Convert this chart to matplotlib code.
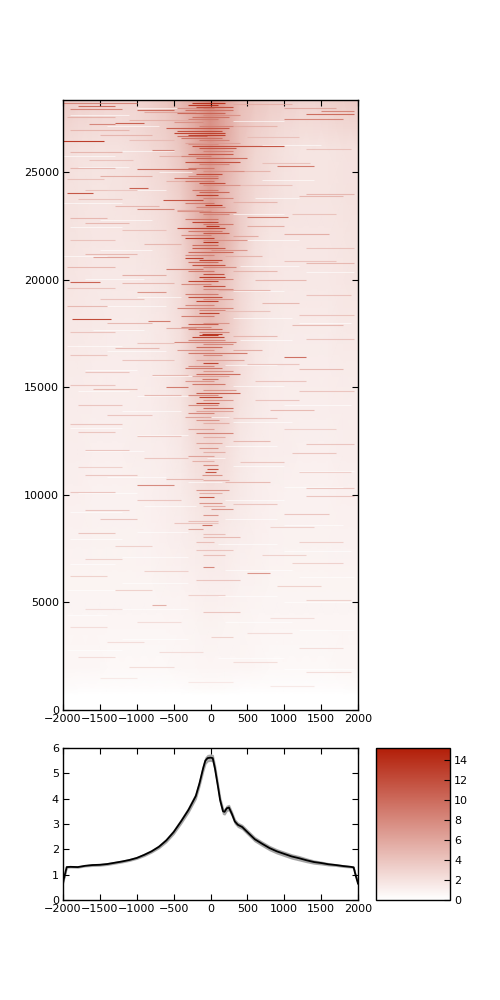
import matplotlib
matplotlib.use('Agg')
import matplotlib.pyplot as plt
from matplotlib.colors import LinearSegmentedColormap, Normalize
import numpy as np

# coarse signal, one row per y value
heat_x = [-2000,-1800,-1600,-1400,-1200,-1000,-800,-600,-400,-200,0,200,400,600,800,1000,1200,1400,1600,1800,2000]
heat_y = [0,700,1000,2000,4000,6000,8000,10000,12000,14000,16000,18000,20000,22000,24000,26000,28370]
heat = [
[0,0,0,0,0,0,0,0,0,0,0,0,0,0,0,0,0,0,0,0,0],
[0,0,0,0,0,0,0,0,0,0,0,0,0,0,0,0,0,0,0,0,0],
[.3,.2,.2,.2,.2,.2,.2,.2,.2,.3,.4,.3,.2,.2,.2,.2,.2,.2,.2,.2,.3],
[.6,.6,.6,.5,.5,.5,.5,.5,.6,.6,.7,.7,.7,.6,.5,.5,.5,.5,.5,.6,.6],
[.7,.7,.7,.7,.7,.7,.7,.7,.7,.8,.9,.8,.8,.7,.7,.7,.7,.7,.7,.7,.7],
[.8,.8,.8,.8,.8,.8,.8,.9,1,1.1,1.2,1.2,1,.9,.8,.8,.8,.8,.8,.8,.8],
[1,1,.9,.9,.9,.9,1,1.1,1.2,1.4,1.6,1.4,1.2,1.1,1,.9,.9,.9,.9,1,1],
[1.1,1.1,1,1,1,1,1.1,1.2,1.4,1.8,2.1,1.9,1.5,1.2,1.1,1,1,1,1,1.1,1.1],
[1.2,1.2,1.1,1.1,1.1,1.2,1.2,1.3,1.6,2.2,2.5,2.2,1.6,1.3,1.2,1.2,1.1,1.1,1.1,1.2,1.2],
[1.3,1.3,1.2,1.2,1.2,1.2,1.3,1.5,1.8,2.8,3.4,2.9,1.9,1.5,1.3,1.2,1.2,1.2,1.2,1.3,1.3],
[1.4,1.4,1.3,1.3,1.3,1.3,1.4,1.6,2.1,3.4,4,3.3,2.3,1.7,1.4,1.3,1.3,1.3,1.3,1.4,1.4],
[1.6,1.6,1.5,1.4,1.4,1.4,1.5,1.7,2.3,3.9,4.6,3.8,2.6,1.8,1.5,1.4,1.4,1.4,1.4,1.6,1.6],
[1.8,1.7,1.6,1.6,1.6,1.6,1.7,1.9,2.6,4,5,4,2.7,1.9,1.7,1.6,1.6,1.6,1.6,1.7,1.8],
[1.9,1.8,1.7,1.7,1.7,1.8,1.9,2.2,3,4.8,6.4,5.4,3.5,2.2,1.8,1.7,1.7,1.7,1.7,1.8,1.9],
[2,1.9,1.8,1.8,1.9,2,2.2,2.6,3.4,5.1,6.6,4.8,3.5,2.6,2.2,1.9,1.8,1.8,1.8,1.9,2],
[2.2,2,1.9,1.9,2,2.2,2.6,3,3.9,5.6,7,5.6,4,2.8,2.4,2,1.8,1.8,1.8,1.9,2],
[3.4,3.2,3,2.9,2.9,2.9,3.3,3.9,4.8,6,8,6.2,4.4,3.8,3.4,3.2,3,3,3.2,3.4,3.6],
]

# strongest streaks seen in the heatmap: y, x start, x end, value
red_streaks = [
(28250,-2000,-1000,9),(28100,-1800,-1300,11),(27950,-1900,-1200,9),(27900,-1000,-500,11),(28250,-250,200,15),
(28150,-300,100,15),(28050,-200,300,13),(27900,-350,300,10),(27750,-450,200,11),(27600,-250,250,10),
(27700,1300,1950,11),(27850,1500,1950,9),(27500,1000,1800,9),(27300,-1300,-900,12),(27250,-1650,-1300,9),
(27050,-600,250,12),(26950,-450,150,13),(26850,-500,200,14),(26750,-300,200,14),(26600,-400,150,10),
(26480,-2000,-1450,15),(26250,-250,1000,13),(26150,-150,350,12),(26050,-800,-500,9),(25850,-300,300,12),
(25650,-200,500,11),(25500,-350,400,13),(25300,900,1400,10),(25150,-1000,-200,11),(24950,-200,150,13),
(24750,-500,100,11),(24500,-150,200,13),(24300,-1100,-850,12),(24100,-150,250,11),(24050,-1950,-1600,13),
(23950,-200,100,14),(23700,-650,-100,13),(23500,-80,150,15),(23300,-1000,-500,9),(23150,-150,350,10),
(22950,500,1050,10),(22700,-250,100,14),(22500,-60,120,15),(22400,-450,200,14),(22200,-100,250,12),
(21950,-350,50,14),(21750,-100,100,15),(21500,-250,200,12),(21300,-300,300,11),(21050,-1600,-1100,7),
(21000,-350,-100,14),(20950,-150,150,14),(20700,-250,200,13),(20500,-600,-100,10),(20300,-100,180,13),
(20150,-150,200,15),(19950,-300,100,14),(19900,-1900,-1500,12),(19700,-100,200,13),(19450,-1000,-600,8),
(19200,-300,150,13),(19000,-200,100,14),(18700,-450,300,9),(18450,-150,120,14),(18180,-1880,-1350,14),
(18100,-850,-550,10),(17950,-300,100,12),(17700,-300,150,11),(17500,-120,150,15),(17450,-150,100,15),
(17350,-250,180,14),(17100,-500,350,9),(16900,-200,150,11),(16600,-300,500,10),(16400,1000,1300,11),
(16150,-100,100,14),(15900,-350,150,10),(15650,-200,400,11),(15400,-120,100,10),(15150,-250,200,10),
(15000,-600,-300,10),(14750,-200,400,12),(14550,-150,150,14),(14300,-200,120,14),(14050,-100,300,11),
(13800,-300,50,9),(13500,-200,120,8),(12900,-200,300,9),(12200,-150,100,8),(11800,-300,50,7),
(11400,-100,100,9),(11200,-50,100,13),(11050,-70,80,13),(10950,-120,150,8),(10450,-1000,-500,9),
(10250,-200,250,8),(9900,-150,50,13),(9650,-150,150,8),(9350,0,300,8),(9050,-100,100,8),
(8600,-120,20,11),(8400,-300,-100,7),(6650,-100,50,9),(6350,500,800,8),(4900,-800,-600,6),
]

# busier rows inside the centre band
centre_streaks = [
(28000,-450,50,9),(27680,-100,400,8),(27480,-300,100,9),(27350,-500,-100,8),(27150,-150,300,9),(26680,-450,-50,11),
(26500,-150,250,9),(26320,-300,100,8),(25980,-100,300,9),(25760,-400,0,9),(25400,-150,250,9),(25230,-300,50,10),
(25050,-100,450,8),(24840,-300,100,9),(24620,-350,50,10),(24400,-100,400,8),(24200,-250,100,10),(23820,-100,300,9),
(23600,-350,50,10),(23400,-200,200,9),(23230,-450,0,8),(23050,-100,250,9),(22850,-350,100,10),(22600,-100,300,10),
(22300,-300,150,10),(22100,-400,0,9),(21850,-100,500,8),(21620,-250,100,11),(21400,0,500,8),(21180,-350,50,9),
(20820,-300,100,11),(20600,-100,350,9),(20420,-300,50,10),(20050,-100,300,9),(19820,-400,0,9),(19580,-100,300,9),
(19330,-350,100,10),(19100,-100,300,8),(18850,-350,50,9),(18600,-150,200,9),(18330,-400,50,10),(18020,-100,250,8),
(17820,-400,0,9),(17600,-150,250,9),(17220,-300,200,9),(17000,-100,300,9),(16750,-450,50,8),(16500,-100,150,9),
(16280,-200,450,7),(16020,-300,50,9),(15780,-100,300,8),(15520,-250,250,7),(15280,-350,50,8),(14900,-100,350,8),
(14650,-300,100,9),(14420,-100,300,8),(14180,-300,100,9),(13920,-200,300,7),(13650,-350,0,7),(13350,-100,250,6),
(13050,-300,50,7),(12700,-100,200,6),(12400,-200,150,7),(12000,-100,200,6),(11600,-250,50,6),(10700,-100,250,6),
(10100,-150,150,6),(9500,-100,200,6),(8800,-300,100,5),(8200,-100,200,5),(7800,-200,50,5),(7200,-100,200,5),
]

# paler streaks filling the sides
pale_streaks = [
(28180,300,1100,6),(28020,1000,1700,7),(27820,-900,-200,7),(27560,-1950,-1300,6),(27430,-1100,-300,6),(27180,300,900,6),
(26980,-1900,-1100,6),(26720,-1500,-800,6),(26640,500,1200,5),(26520,-1100,-500,5),(26380,-350,400,7),(26090,1300,1900,5),
(25950,-1900,-1200,6),(25780,-700,-150,6),(25600,-1650,-1050,5),(25420,700,1350,5),(25220,-1900,-1300,6),(25060,300,800,6),
(24850,-1500,-800,7),(24680,-1950,-1450,5),(24600,-600,-100,6),(24400,400,1100,5),(24200,-1700,-1000,5),(24020,1300,1950,6),
(23900,1200,1800,6),(23780,-1800,-1200,5),(23620,300,900,6),(23420,-1300,-700,6),(23250,-450,-100,7),(23050,1100,1700,5),
(22880,-1900,-1400,6),(22650,-1700,-1100,6),(22520,500,1000,7),(22330,-1200,-600,5),(22150,1000,1600,7),(22050,300,650,7),
(21880,-1900,-1300,5),(21650,-900,-400,6),(21480,1300,1950,5),(21220,-1700,-1000,6),(21100,200,700,6),(20880,1000,1700,5),
(20800,1300,1950,6),(20620,-1950,-1300,6),(20420,300,900,6),(20240,-1200,-600,7),(20020,600,1300,6),(19850,-1200,-500,6),
(19640,-1950,-1300,5),(19520,100,800,6),(19320,1300,1900,5),(19100,-1500,-900,5),(18950,700,1200,6),(18780,-1950,-1400,6),
(18550,200,800,5),(18350,1200,1950,5),(18020,-1400,-800,6),(17900,1100,1800,6),(17780,-600,-200,7),(17560,-1900,-1300,5),
(17400,300,900,6),(17250,1300,1950,5),(17050,-1000,-500,5),(16850,-1300,-700,6),(16720,300,700,7),(16500,-1900,-1400,5),
(16280,-1200,-500,5),(16100,500,1200,5),(15850,1200,1800,6),(15720,-1700,-1100,5),(15560,-800,-300,6),(15280,600,1300,5),
(15100,-1900,-1300,5),(14950,-1600,-1000,6),(14820,1200,1950,5),(14640,-900,-400,6),(14420,600,1200,5),(14180,-1800,-1200,5),
(13950,800,1400,6),(13700,-1400,-800,5),(13560,300,900,5),(13320,-1900,-1200,5),(13080,1000,1700,4),(12950,-1800,-1300,5),
(12760,-1000,-400,5),(12520,300,800,6),(12350,1300,1950,5),(12100,-1700,-1100,5),(11950,1100,1700,5),(11700,-900,-300,5),
(11520,400,1000,5),(11280,-1800,-1200,4),(11060,1200,1900,4),(10950,-1700,-1000,5),(10740,-600,-100,6),(10600,200,800,6),
(10340,1300,1950,5),(10120,-1900,-1300,5),(9950,1300,1950,5),(9780,-1000,-400,5),(9580,300,900,5),(9320,-1700,-1100,5),
(9120,1000,1600,5),(8900,-1500,-1000,5),(8720,-500,100,5),(8520,800,1400,4),(8220,-1800,-1300,5),(8060,-100,400,6),
(7800,1200,1800,4),(7640,-1300,-800,4),(7420,-200,300,5),(7220,700,1300,4),(7020,-1700,-1200,4),(6820,1100,1800,4),
(6480,-900,-300,4),(6220,-1900,-1400,4),(6040,-200,400,5),(5780,900,1500,4),(5560,-1300,-800,4),(5340,-300,200,4),
(5100,1300,1900,4),(4720,-1700,-1200,3),(4550,-100,400,5),(4300,800,1400,3),(4100,-1000,-400,3),(3850,-1900,-1400,3),
(3600,500,1100,3),(3400,0,300,4),(3160,-1400,-900,3),(2900,1200,1800,3),(2700,-700,-100,3),(2480,-1800,-1300,3),
(2240,300,900,3),(2000,-1100,-500,3),(1760,1300,1900,3),(1500,-1500,-1000,2),(1280,-300,300,2),(1100,800,1400,2),
]

# pale gaps between rows
white_gaps = [
(28000,-1000,-100),(27650,-1900,-1100),(27380,300,1000),(27150,-1400,-700),(26300,700,1500),(25980,-1200,-500),(25750,-2000,-1300),
(25250,-1800,-1100),(25030,-700,-250),(24650,700,1400),(24200,-1400,-600),(23820,600,1200),(23600,-2000,-1200),(23050,300,1000),
(22780,-1500,-800),(22450,-1900,-1200),(21850,500,1200),(21400,-1500,-800),(21120,-2000,-1400),(20650,400,1200),(20380,1300,1950),
(20050,-1700,-900),(19500,300,1000),(19230,-1000,-400),(18800,-1400,-600),(18250,300,1100),(17980,1200,1900),(17650,-1600,-900),
(17200,400,1100),(16950,-1950,-1200),(16700,-1400,-600),(16050,200,900),(15800,-1700,-1000),(15550,-800,-200),(15050,300,1000),
(14850,-1800,-1100),(14600,-1000,-300),(14200,1000,1900),(13900,-1200,-400),(13650,-100,250),(13400,300,1100),(13100,-1900,-1200),
(12800,-1000,-300),(12300,200,900),(12030,-1700,-900),(11700,-50,200),(11340,300,1000),(11100,1200,1950),(10820,-1400,-600),
(10600,-300,150),(10380,1000,1800),(10100,-1800,-1000),(9750,200,1000),(9500,-900,-200),(9200,-1900,-1200),(8900,200,900),
(8600,1000,1800),(8300,-1000,-300),(7950,-1900,-1200),(7700,100,900),(7400,1000,1900),(7100,-1200,-300),(6800,-1900,-1300),
(6500,200,1100),(6200,1200,1950),(5900,-1200,-300),(5600,-1950,-1300),(5300,100,900),(5000,1000,1900),(4700,-1300,-300),
(4400,-1950,-1400),(4100,200,1100),(3700,1200,1950),(3300,-1200,-300),(2800,-1950,-1200),(2400,100,1000),(1900,1000,1950),
]

# mean profile below the heatmap
line_x = [-2000,-1950,-1900,-1800,-1700,-1600,-1500,-1400,-1300,-1200,-1100,-1000,-900,-800,-700,-600,-500,-400,-300,-200,-150,-100,-70,-40,0,30,60,100,130,170,190,220,250,290,330,370,430,500,600,700,800,900,1000,1100,1200,1300,1400,1500,1600,1700,1800,1900,1940,1970,2000]
line_y = [0.7,1.3,1.31,1.3,1.35,1.38,1.39,1.42,1.47,1.52,1.58,1.66,1.78,1.92,2.1,2.35,2.68,3.1,3.55,4.1,4.6,5.2,5.5,5.6,5.62,5.6,5.2,4.5,3.95,3.5,3.48,3.62,3.65,3.4,3.1,2.97,2.88,2.68,2.4,2.22,2.05,1.92,1.82,1.72,1.65,1.57,1.5,1.46,1.41,1.38,1.34,1.31,1.29,0.95,0.65]
line_err = [.02,.02,.02,.02,.02,.03,.03,.03,.03,.03,.03,.03,.04,.04,.05,.06,.07,.08,.09,.1,.1,.12,.12,.12,.12,.12,.12,.1,.1,.1,.1,.1,.1,.08,.08,.08,.08,.08,.08,.08,.08,.08,.08,.08,.08,.07,.06,.05,.04,.03,.03,.02,.02,.02,.02]

cbar_ticks = [0,2,4,6,8,10,12,14]
x_ticks = [-2000,-1500,-1000,-500,0,500,1000,1500,2000]
y_ticks = [0,5000,10000,15000,20000,25000]
prof_ticks = [0,1,2,3,4,5,6]

cmap = LinearSegmentedColormap.from_list('wr', ['#ffffff', '#b21e08'])
norm = Normalize(0, 15.2)

def style(ax):
    ax.tick_params(direction='in', top=True, right=True, length=4, width=0.8, labelsize=8, pad=3)
    for s in ax.spines.values():
        s.set_linewidth(1.0)

def draw_streaks(ax, rows, alpha):
    rows = np.array(rows)
    ax.hlines(rows[:, 0], rows[:, 1], rows[:, 2], colors=cmap(norm(rows[:, 3])), lw=0.8, alpha=alpha)

W, H = 500.0, 1000.0
fig = plt.figure(figsize=(5, 10), dpi=100)

ax = fig.add_axes([63/W, 1-710/H, 295/W, 610/H])
ax.pcolormesh(heat_x, heat_y, np.array(heat), cmap=cmap, norm=norm, shading='gouraud')
gaps = np.array(white_gaps)
ax.hlines(gaps[:, 0], gaps[:, 1], gaps[:, 2], colors='white', lw=0.7, alpha=0.6)
draw_streaks(ax, pale_streaks, 0.7)
draw_streaks(ax, centre_streaks, 0.8)
draw_streaks(ax, red_streaks, 0.85)
ax.set_xlim(-2000, 2000)
ax.set_ylim(0, 28370)
ax.set_xticks(x_ticks)
ax.set_yticks(y_ticks)
style(ax)

ax2 = fig.add_axes([63/W, 1-900/H, 295/W, 152/H])
y = np.array(line_y)
err = np.array(line_err)
ax2.fill_between(line_x, y-err, y+err, color='#999999', alpha=0.8, lw=1)
ax2.plot(line_x, y, color='black', lw=1.3)
ax2.set_xlim(-2000, 2000)
ax2.set_ylim(0, 6)
ax2.set_xticks(x_ticks)
ax2.set_yticks(prof_ticks)
style(ax2)

cax = fig.add_axes([376/W, 1-900/H, 74/W, 152/H])
cb = fig.colorbar(plt.cm.ScalarMappable(norm=norm, cmap=cmap), cax=cax)
cb.set_ticks(cbar_ticks)
cax.tick_params(direction='in', length=4, width=0.8, labelsize=8, pad=3, right=True)
cb.outline.set_linewidth(1.0)

fig.savefig('out.png', dpi=100)
